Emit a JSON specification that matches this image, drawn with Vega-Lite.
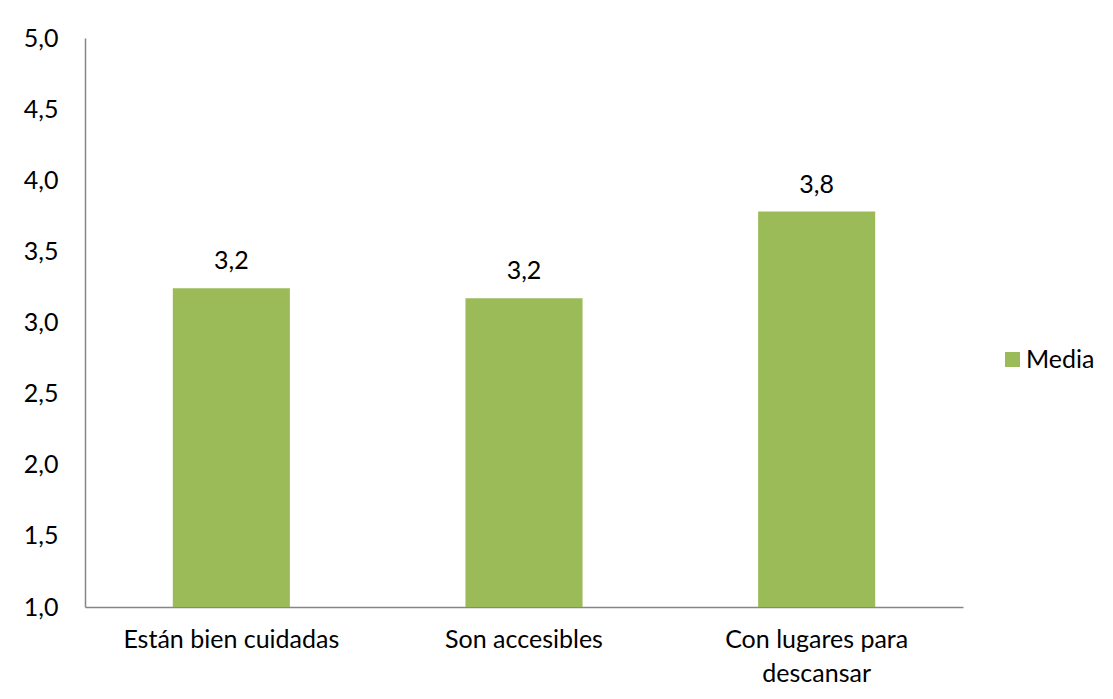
{
  "$schema": "https://vega.github.io/schema/vega-lite/v6.json",
  "autosize": "none",
  "width": 878,
  "height": 569,
  "padding": {"left": 85, "top": 38, "right": 150, "bottom": 92},
  "background": "white",
  "config": {
    "locale": {"number": {"decimal": ",", "thousands": ".", "grouping": [3], "currency": ["", " €"]}},
    "view": {"stroke": null},
    "font": "Lato",
    "axis": {"labelFont": "Lato", "labelFontSize": 25, "labelColor": "#000000", "domainColor": "#868686", "domainWidth": 1.5, "ticks": false, "grid": false, "title": null, "labelLimit": 400},
    "legend": {"labelFont": "Lato", "labelFontSize": 25, "labelColor": "#000000"}
  },
  "data": {
    "values": [
      {"categoria": "Están bien cuidadas", "media": 3.24, "serie": "Media"},
      {"categoria": "Son accesibles", "media": 3.17, "serie": "Media"},
      {"categoria": "Con lugares para descansar", "media": 3.78, "serie": "Media"}
    ]
  },
  "encoding": {
    "x": {
      "field": "categoria", "type": "nominal", "sort": null,
      "scale": {"paddingInner": 0.6, "paddingOuter": 0.3},
      "axis": {"labelAngle": 0, "labelPadding": 20, "labelLineHeight": 34, "labelBaseline": "top",
        "labelExpr": "datum.value == 'Con lugares para descansar' ? ['Con lugares para', 'descansar'] : datum.value"}
    },
    "y": {
      "field": "media", "type": "quantitative",
      "scale": {"domain": [1, 5], "nice": false, "zero": false},
      "axis": {"values": [1, 1.5, 2, 2.5, 3, 3.5, 4, 4.5, 5], "format": ".1f", "labelPadding": 27}
    }
  },
  "layer": [
    {
      "mark": {"type": "bar", "clip": true},
      "encoding": {
        "color": {"field": "serie", "type": "nominal",
          "scale": {"range": ["#9BBB59"]},
          "legend": {"title": null, "orient": "none", "legendX": 915, "legendY": 309, "symbolType": "square", "symbolSize": 225, "symbolStrokeWidth": 0, "labelOffset": 1}}
      }
    },
    {
      "mark": {"type": "text", "dy": -27, "fontSize": 25, "font": "Lato", "color": "#000000"},
      "encoding": {"text": {"field": "media", "type": "quantitative", "format": ".1f"}}
    }
  ]
}
